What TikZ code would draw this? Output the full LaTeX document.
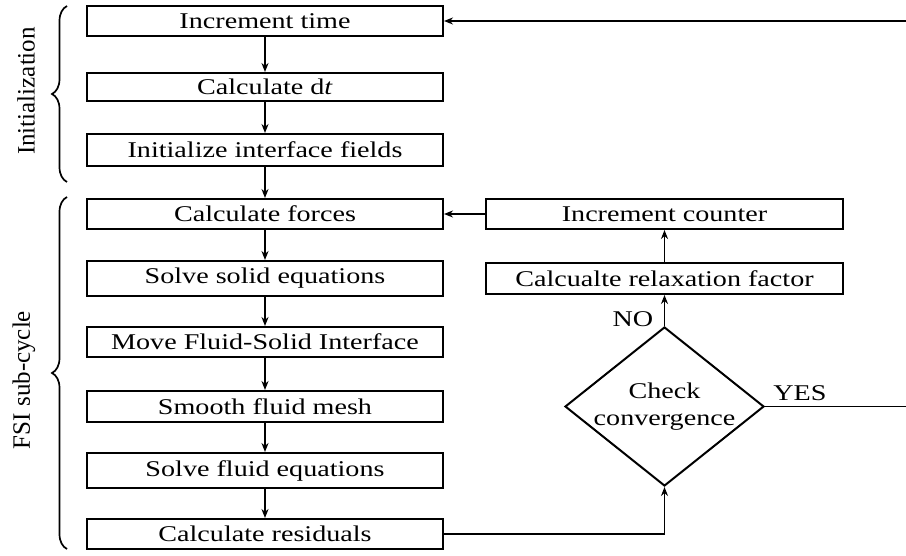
\documentclass[tikz,border=0pt]{standalone}
\usepackage{fontspec}
\setmainfont{Liberation Serif}[FakeStretch=1.25]
\newfontfamily\sidefont{Liberation Serif}
\usetikzlibrary{arrows.meta,shapes.geometric,decorations.pathreplacing}
\begin{document}
\begin{tikzpicture}[x=1pt,y=-1pt,
  box/.style={draw,line width=2pt,minimum width=356pt,inner sep=0pt,
    font=\fontsize{22.5}{26}\selectfont},
  arr/.style={line width=1.7pt,-{Stealth[length=9pt,width=7pt]}},
  ln/.style={line width=1.7pt},
  lbl/.style={font=\fontsize{22.5}{27}\selectfont,inner sep=0pt},
  side/.style={font=\sidefont\fontsize{25}{28}\selectfont,rotate=90,inner sep=0pt},
  brc/.style={line width=1.7pt,decorate,decoration={brace,amplitude=15pt}}]
\useasboundingbox (0,0) rectangle (906,556);
% left column
\node[box,minimum height=30pt] (inc) at (265,21) {Increment time};
\node[box,minimum height=28pt] (dt) at (265,87) {Calculate d\textit{t}};
\node[box,minimum height=32pt] (init) at (265,150) {Initialize interface fields};
\node[box,minimum height=30pt] (forces) at (265,214) {Calculate forces};
\node[box,minimum height=35pt] (solid) at (265,278.5) {Solve solid equations};
\node[box,minimum height=30pt] (move) at (265,342) {Move Fluid-Solid Interface};
\node[box,minimum height=31pt] (smooth) at (265,406.5) {Smooth fluid mesh};
\node[box,minimum height=35pt] (fluid) at (265,470.5) {Solve fluid equations};
\node[box,minimum height=30pt] (res) at (265,534) {Calculate residuals};
% right column
\node[box,minimum width=357pt,minimum height=30pt] (counter) at (664.5,214) {Increment counter};
\node[box,minimum width=357pt,minimum height=31pt] (relax) at (664.5,278.5) {Calcualte relaxation factor};
\node[draw,line width=2pt,diamond,minimum width=199pt,minimum height=159pt,inner sep=0pt] (check) at (664.5,406.5) {};
\node[lbl,align=center] (checktxt) at (check.center) {Check\\convergence};
\node[lbl] (no) at (633,319) {NO};
\node[lbl] (yes) at (800,393) {YES};
\coordinate (r1) at (906,21);
\coordinate (r2) at (906,406.5);
% connectors
\draw[arr] (inc) -- (dt);
\draw[arr] (dt) -- (init);
\draw[arr] (init) -- (forces);
\draw[arr] (forces) -- (solid);
\draw[arr] (solid) -- (move);
\draw[arr] (move) -- (smooth);
\draw[arr] (smooth) -- (fluid);
\draw[arr] (fluid) -- (res);
\draw[arr] (res.east) -| (check.south);
\draw[arr] (check.north) -- (relax.south);
\draw[arr] (relax.north) -- (counter.south);
\draw[arr] (counter.west) -- (forces.east);
\draw[ln] (check.east) -- (r2);
\draw[arr] (r1) -- (inc.east);
% braces
\draw[brc] (67,182) -- (67,6);
\draw[brc] (67,549) -- (67,197);
\node[side] (initlbl) at (26,91) {Initialization};
\node[side] (fsilbl) at (24,380) {FSI sub-cycle};
\end{tikzpicture}
\end{document}
